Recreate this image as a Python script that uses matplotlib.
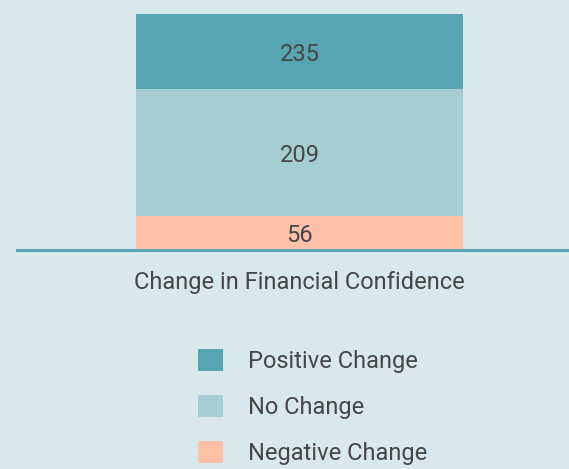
import matplotlib
matplotlib.use("Agg")
import matplotlib.pyplot as plt
from matplotlib.patches import Patch

category = "Change in Financial Confidence"
series = ["Negative Change", "No Change", "Positive Change"]
values = [56, 209, 235]
colors = ["#fdc1a8", "#a7cdd4", "#57a5b1"]

BG = "#d9e8ed"
TXT = "#464646"
FS = 17
FW = "normal"
plt.rcParams['font.family'] = ['Roboto', 'DejaVu Sans']

W, H, DPI = 569, 469, 100
fig = plt.figure(figsize=(W / DPI, H / DPI), dpi=DPI, facecolor=BG)
ax = fig.add_axes([17 / W, 1 - 250 / H, (W - 17) / W, 236 / H])
ax.set_facecolor(BG)

ymax = 389
bottom = 0
for name, v, c in zip(series, values, colors):
    ax.bar([0], [v], bottom=bottom, width=1.0, color=c, label=name, zorder=1)
    top = min(bottom + v, ymax)
    ax.text(0, (bottom + top) / 2, str(v), ha="center", va="center_baseline",
            fontsize=FS, color=TXT, fontweight=FW, zorder=3)
    bottom += v

ax.set_ylim(0, ymax)
ax.set_xlim(-0.864, 0.824)
for s in ["top", "left", "right"]:
    ax.spines[s].set_visible(False)
ax.spines["bottom"].set_color("#5aa5b1")
ax.spines["bottom"].set_linewidth(2.2)
ax.spines["bottom"].set_zorder(4)
ax.set_yticks([])
ax.set_xticks([0])
ax.set_xticklabels([category], fontsize=FS, color=TXT, fontweight=FW)
ax.tick_params(axis="x", length=0, pad=15)

handles = [Patch(facecolor=c, edgecolor="none", label=n) for n, c in zip(series, colors)][::-1]
leg = fig.legend(handles=handles, loc="upper left",
                 bbox_to_anchor=(198 / W, 1 - 349 / H), frameon=False,
                 handlelength=1.06, handleheight=1.06,
                 handletextpad=1.06, labelspacing=0.92, borderpad=0,
                 borderaxespad=0, prop={"weight": FW, "size": FS})
for t in leg.get_texts():
    t.set_color(TXT)

fig.savefig("out.png", dpi=DPI, facecolor=BG)
